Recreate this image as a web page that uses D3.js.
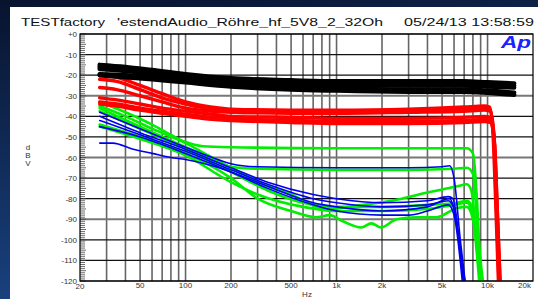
<!DOCTYPE html>
<html>
<head>
<meta charset="utf-8">
<script src="https://cdn.jsdelivr.net/npm/d3@7"></script>
<style>
  html, body { margin: 0; padding: 0; background: #0b1838; }
  svg { display: block; }
  text { font-family: "Liberation Sans", Arial, sans-serif; }
</style>
</head>
<body>
<svg id="chart" width="538" height="299"></svg>
<script>
// title pieces
const titleParts = ["TESTfactory", "'estendAudio_Röhre_hf_5V8_2_32Oh", "05/24/13 13:58:59"];
// tick labels
const yTicks = d3.range(0, -121, -10);
const xTicks = [20, 50, 100, 200, 500, 1000, 2000, 5000, 10000, 20000];
const xTickLabels = ["20", "50", "100", "200", "500", "1k", "2k", "5k", "10k", "20k"];

// traces: [Hz, dBV]
const blackTraces = [
  [[27,-15],[40,-16],[60,-17.5],[100,-19.5],[200,-21.5],[500,-22.5],[1000,-23],[3000,-23],[7000,-23],[10000,-23.5],[15000,-24]],
  [[27,-16],[40,-17],[60,-18.5],[100,-20.5],[200,-22.5],[500,-23.5],[1000,-24],[3000,-24],[7000,-24],[10000,-24.5],[15000,-25]],
  [[27,-17],[40,-18],[60,-19.5],[100,-21.5],[200,-23.5],[500,-24.5],[1000,-25],[3000,-25],[7000,-25],[10000,-25.5],[15000,-26]],
  [[27,-19.5],[40,-20],[60,-21],[100,-22.5],[200,-24.5],[500,-26],[1000,-26.5],[3000,-27],[7000,-27],[10000,-27.5],[15000,-28.5]],
  [[27,-20],[40,-21],[60,-22],[100,-23.5],[200,-25.5],[500,-27],[1000,-27.5],[3000,-28],[7000,-28],[10000,-28.5],[15000,-29.5]]
];
const redTraces = [
  [[27,-20],[35,-21],[50,-25],[70,-29],[100,-33],[150,-35.5],[200,-36.5],[500,-37],[1000,-37],[3000,-36.5],[7000,-35.5],[9500,-35],[10300,-35.5],[10800,-45],[11300,-80],[11800,-120]],
  [[27,-22],[35,-23],[50,-27],[70,-31],[100,-34],[150,-36.5],[200,-37.5],[500,-37.5],[1000,-37.5],[3000,-37],[7000,-36.5],[9500,-36],[10300,-36.5],[10900,-46],[11400,-80],[11900,-120]],
  [[27,-26],[35,-27],[50,-30],[70,-33],[100,-36],[150,-37.5],[200,-38],[500,-38.5],[1000,-38.5],[3000,-38],[7000,-37.5],[9500,-37],[10400,-37.5],[11000,-48],[11500,-82],[12000,-120]],
  [[27,-31],[35,-32],[50,-34],[70,-36],[100,-37.5],[150,-39],[200,-40],[500,-40.5],[1000,-41],[3000,-41],[7000,-40.5],[9500,-40],[10400,-40.5],[11000,-50],[11500,-84],[12000,-120]],
  [[27,-33],[35,-34],[50,-36],[70,-37.5],[100,-39],[150,-40.5],[200,-41],[500,-42],[1000,-42.5],[3000,-42.5],[7000,-42],[9500,-41.5],[10500,-42],[11100,-52],[11600,-85],[12100,-120]],
  [[27,-34],[35,-35],[50,-37],[70,-38.5],[100,-40],[150,-41.5],[200,-42],[500,-43],[1000,-43.5],[3000,-43.5],[7000,-43],[9500,-42.5],[10500,-43],[11100,-53],[11600,-86],[12100,-120]]
];
const greenTraces = [
  [[27,-33],[40,-38],[60,-44],[80,-49],[100,-52.5],[130,-54.5],[200,-55],[1000,-55.5],[3000,-55.5],[6000,-55.5],[7300,-55.5],[8000,-58],[8500,-80],[9000,-120]],
  [[27,-35],[40,-40],[60,-46],[100,-53],[150,-60],[200,-64.5],[300,-65.5],[1000,-66],[3000,-66],[6000,-65.5],[7300,-65],[8000,-68],[8700,-100],[9300,-120]],
  [[27,-36],[50,-45],[100,-55],[200,-65],[350,-74],[500,-78],[850,-85],[1500,-83],[2700,-80],[4000,-77],[6300,-74],[7300,-73],[7800,-76],[8500,-100],[9200,-120]],
  [[27,-37.5],[50,-46],[100,-56],[200,-67],[350,-76],[600,-82],[1000,-84],[2000,-84],[4000,-83],[6300,-82],[7300,-81],[8000,-85],[8700,-110],[9300,-120]],
  [[27,-44],[50,-50],[100,-58],[200,-70],[300,-80],[500,-86],[730,-89],[900,-88],[1100,-91],[1460,-94],[1700,-92],[1970,-94],[2500,-90],[3400,-89],[4600,-89],[6300,-84.5],[7300,-84],[8000,-90],[8800,-120]],
  [[27,-45],[50,-51],[100,-59],[200,-72],[300,-78],[600,-84],[1000,-86],[2000,-86],[4000,-85],[6000,-83],[7300,-82],[8000,-88],[8900,-120]]
];
const blueTraces = [
  [[27,-38],[50,-46],[100,-55],[150,-60],[200,-63],[300,-64.5],[1000,-65],[3000,-65],[5000,-64.5],[5600,-64],[6000,-70],[6600,-100],[7100,-120]],
  [[27,-40],[50,-48],[100,-56],[200,-65],[350,-72],[700,-78],[1000,-80],[2000,-82],[4000,-81],[5500,-79],[5900,-80],[6500,-100],[7000,-120]],
  [[27,-42],[50,-49],[100,-57],[200,-66],[350,-73],[700,-80],[1000,-82],[2000,-84],[4000,-83],[5500,-81],[6000,-85],[6700,-110],[7100,-120]],
  [[27,-45],[50,-50],[100,-58],[200,-67],[350,-75],[700,-83],[1000,-86],[2000,-88],[3000,-88],[4000,-86],[5500,-83],[6000,-88],[6800,-120]],
  [[27,-53],[33,-53],[45,-56],[60,-58],[80,-60],[100,-61],[150,-64],[200,-67],[350,-74],[700,-82],[1000,-84],[2000,-86],[4000,-84],[5600,-80],[6000,-85],[6900,-120]]
];

const svg = d3.select("#chart");
const margin = {top: 34, right: 5, bottom: 18, left: 80};
const width = 538, height = 299;

const defs = svg.append("defs");
const grad = defs.append("linearGradient").attr("id", "bg")
    .attr("x1", 0).attr("y1", 0).attr("x2", 0.3).attr("y2", 1);
grad.append("stop").attr("offset", "0%").attr("stop-color", "#08132e");
grad.append("stop").attr("offset", "100%").attr("stop-color", "#1a4584");
defs.append("clipPath").attr("id", "plotclip").append("rect")
    .attr("x", margin.left).attr("y", margin.top)
    .attr("width", width - margin.right - margin.left)
    .attr("height", height - margin.bottom - margin.top);

svg.append("rect").attr("width", width).attr("height", height).attr("fill", "url(#bg)");
svg.append("rect").attr("x", 10).attr("y", 7).attr("width", width - 10).attr("height", height - 7).attr("fill", "#fff");

var x = d3.scaleLog().domain([20, 20000]).range([margin.left, width - margin.right]);
var y = d3.scaleLinear().domain([-120, 0]).range([height - margin.bottom, margin.top]);

// vertical grid (1..9 per decade)
const gridFreqs = [];
[10, 100, 1000, 10000].forEach(d => d3.range(1, 10).forEach(k => {
  const f = k * d;
  if (f > 20 && f < 20000) gridFreqs.push(f);
}));
svg.append("g").selectAll("line").data(gridFreqs).enter().append("line")
    .attr("x1", d => x(d)).attr("x2", d => x(d))
    .attr("y1", y(0)).attr("y2", y(-120))
    .attr("stroke", "#666").attr("stroke-width", 1.6);

// horizontal grid
svg.append("g").selectAll("line").data(yTicks).enter().append("line")
    .attr("x1", x(20)).attr("x2", x(20000))
    .attr("y1", d => y(d)).attr("y2", d => y(d))
    .attr("stroke", d => d % 30 === 0 && d !== 0 && d !== -120 ? "#777" : "#111")
    .attr("stroke-width", d => d % 30 === 0 && d !== 0 && d !== -120 ? 1.8 : 1.1);

// minor ticks on left edge
svg.append("g").selectAll("line").data(d3.range(0, -121, -1)).enter().append("line")
    .attr("x1", x(20)).attr("x2", d => x(20) + (d % 5 === 0 ? 6 : 5))
    .attr("y1", d => y(d)).attr("y2", d => y(d))
    .attr("stroke", "#444").attr("stroke-width", 0.8);

// traces
const line = d3.line().x(d => x(d[0])).y(d => y(d[1])).curve(d3.curveMonotoneX);
const traces = svg.append("g").attr("clip-path", "url(#plotclip)");
function drawGroup(data, color, w) {
  traces.append("g").selectAll("path").data(data).enter().append("path")
      .attr("d", line).attr("fill", "none")
      .attr("stroke", color).attr("stroke-width", w)
      .attr("stroke-linecap", "round").attr("stroke-linejoin", "round");
}
drawGroup(greenTraces, "#00ee00", 2.6);
drawGroup(blueTraces, "#0000ee", 1.6);
drawGroup(redTraces, "#ff0000", 3.4);
drawGroup(blackTraces, "#000", 4.5);

// plot border
svg.append("rect").attr("x", x(20)).attr("y", y(0))
    .attr("width", x(20000) - x(20)).attr("height", y(-120) - y(0))
    .attr("fill", "none").attr("stroke", "#000").attr("stroke-width", 1.2);

// y tick labels
svg.append("g").selectAll("text").data(yTicks).enter().append("text")
    .attr("x", 77).attr("y", d => y(d) + 3)
    .attr("text-anchor", "end").attr("font-size", 8).attr("fill", "#333")
    .text(d => d === 0 ? "+0" : d);

// x tick labels
svg.append("g").selectAll("text").data(xTicks).enter().append("text")
    .attr("x", (d, i) => d === 20000 ? 531 : x(d))
    .attr("y", d => d === 20 ? 289 : 288)
    .attr("text-anchor", d => d === 20000 ? "end" : "middle")
    .attr("font-size", 8).attr("fill", "#333")
    .text((d, i) => xTickLabels[i]);

// axis titles
svg.append("text").attr("x", 307).attr("y", 297).attr("text-anchor", "middle")
    .attr("font-size", 8).attr("fill", "#333").text("Hz");
svg.append("g").selectAll("text").data(["d", "B", "V"]).enter().append("text")
    .attr("x", 28).attr("y", (d, i) => 150 + i * 8).attr("text-anchor", "middle")
    .attr("font-size", 8).attr("fill", "#333").text(d => d);

// title
const titleX = [21, 117, 404];
const titleW = [84, 266, 130];
svg.append("g").selectAll("text").data(titleParts).enter().append("text")
    .attr("x", (d, i) => titleX[i]).attr("y", 25.5)
    .attr("font-size", 11.5).attr("fill", "#111")
    .attr("textLength", (d, i) => titleW[i]).attr("lengthAdjust", "spacingAndGlyphs")
    .text(d => d);

// Ap logo
svg.append("text").attr("x", 501).attr("y", 48)
    .attr("font-size", 17).attr("font-weight", "bold").attr("font-style", "italic")
    .attr("fill", "#1a22ff").attr("textLength", 30).attr("lengthAdjust", "spacingAndGlyphs")
    .text("Ap");
</script>
</body>
</html>
